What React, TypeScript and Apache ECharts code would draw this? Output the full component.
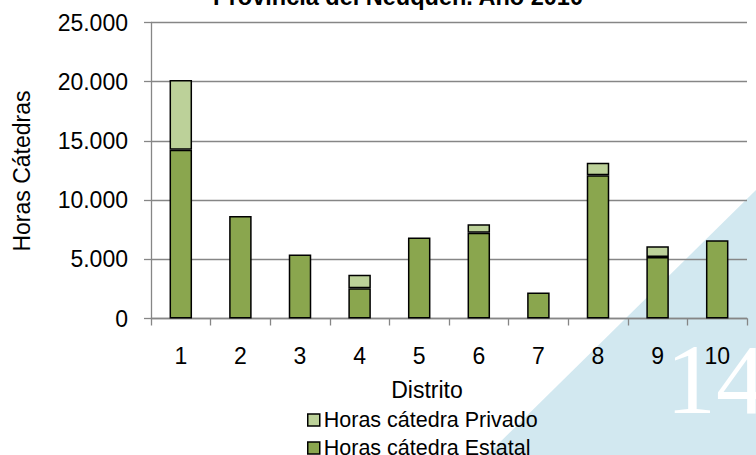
import React, { useEffect, useRef } from "react";
import * as echarts from "echarts";

const titleText = "Provincia del Neuquén. Año 2010";
const districts = ["1", "2", "3", "4", "5", "6", "7", "8", "9", "10"];
const estatal = [14250, 8650, 5400, 2550, 6850, 7250, 2200, 12100, 5200, 6600];
const privado = [5900, 0, 0, 1150, 0, 700, 0, 1050, 900, 0];
const seriesNames = ["Horas cátedra Estatal", "Horas cátedra Privado"];
const yTicks = { min: 0, max: 25000, interval: 5000 };

const FONT = "'Liberation Sans', Arial, sans-serif";

function fmt(v: number): string {
  return String(v).replace(/\B(?=(\d{3})+(?!\d))/g, ".");
}

export default function App() {
  const ref = useRef<HTMLDivElement>(null);
  useEffect(() => {
    if (!ref.current) return;
    const chart = echarts.init(ref.current, undefined, { renderer: "svg" });
    const axisColor = "#868686";
    chart.setOption({
      animation: false,
      backgroundColor: "#ffffff",
      textStyle: { fontFamily: FONT },
      grid: { left: 151, right: 9, top: 22.5, bottom: 136.5, containLabel: false },
      xAxis: {
        type: "category",
        data: districts,
        boundaryGap: true,
        axisLine: { show: true, lineStyle: { color: axisColor, width: 1.3 } },
        axisTick: { show: true, length: 7, alignWithLabel: false, lineStyle: { color: axisColor, width: 1.3 } },
        axisLabel: { color: "#000", fontSize: 23, margin: 26, fontFamily: FONT },
        splitLine: { show: false },
      },
      yAxis: {
        type: "value",
        min: yTicks.min,
        max: yTicks.max,
        interval: yTicks.interval,
        axisLine: { show: true, lineStyle: { color: axisColor, width: 1.3 } },
        axisTick: { show: true, length: 7, lineStyle: { color: axisColor, width: 1.3 } },
        axisLabel: { color: "#000", fontSize: 23, margin: 23, fontFamily: FONT, formatter: (v: number) => fmt(v) },
        splitLine: { show: true, lineStyle: { color: axisColor, width: 1.3 } },
      },
      legend: {
        orient: "vertical",
        left: 307,
        top: 409,
        height: 120,
        padding: 0,
        itemWidth: 12,
        itemHeight: 12,
        itemGap: 6,
        icon: "rect",
        data: [seriesNames[1], seriesNames[0]],
        textStyle: { color: "#000", fontSize: 21.5, fontFamily: FONT, padding: [0, 0, 0, -1] },
        itemStyle: { borderColor: "#000", borderWidth: 1.5 },
      },
      graphic: [
        {
          type: "polygon",
          z: -10,
          shape: { points: [[487, 455], [756, 190], [756, 455]] },
          style: { fill: "#d2e8f0" },
          silent: true,
        },
        {
          type: "text",
          z: -5,
          x: 666,
          y: 379,
          silent: true,
          style: {
            text: "14",
            font: "100px 'Liberation Serif', 'Times New Roman', serif",
            fill: "#ffffff",
            align: "left",
            verticalAlign: "middle",
          },
        },
        {
          type: "text",
          x: 398,
          y: -3,
          silent: true,
          style: {
            text: titleText,
            font: `bold 23.5px ${FONT}`,
            fill: "#000",
            align: "center",
            verticalAlign: "middle",
          },
        },
        {
          type: "text",
          x: 427,
          y: 390,
          silent: true,
          style: {
            text: "Distrito",
            font: `23px ${FONT}`,
            fill: "#000",
            align: "center",
            verticalAlign: "middle",
          },
        },
        {
          type: "text",
          x: 22,
          y: 171,
          rotation: Math.PI / 2,
          silent: true,
          style: {
            text: "Horas Cátedras",
            font: `23px ${FONT}`,
            fill: "#000",
            align: "center",
            verticalAlign: "middle",
          },
        },
      ],
      series: [
        {
          name: seriesNames[0],
          type: "bar",
          stack: "total",
          barWidth: 22.5,
          data: estatal,
          itemStyle: { color: "#8aa64e", borderColor: "#000", borderWidth: 1.5 },
        },
        {
          name: seriesNames[1],
          type: "bar",
          stack: "total",
          barWidth: 22.5,
          data: privado.map((v) => (v === 0 ? null : v)),
          itemStyle: { color: "#bcd199", borderColor: "#000", borderWidth: 1.5 },
        },
      ],
    });
    return () => chart.dispose();
  }, []);
  return (
    <div
      ref={ref}
      style={{ position: "fixed", left: 0, top: 0, width: 756, height: 455 }}
    />
  );
}
